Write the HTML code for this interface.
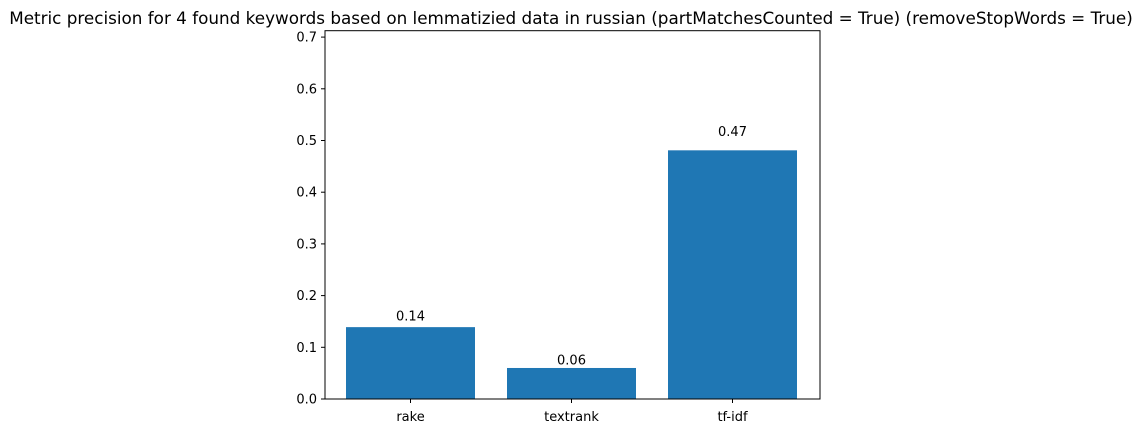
<!DOCTYPE html>
<html><head><meta charset="utf-8"><style>
body{margin:0;background:#fff}
svg text{font-family:"DejaVu Sans","Liberation Sans",sans-serif;fill:#000}
</style></head><body>
<svg width="1143" height="433">
<text x="571" y="24" font-size="16.8" text-anchor="middle">Metric precision for 4 found keywords based on lemmatizied data in russian (partMatchesCounted = True) (removeStopWords = True)</text>
<g id="plot"></g>
</svg>
<script>
const categories=["rake","textrank","tf-idf"];
const values=[0.139,0.06,0.481];
const valueLabels=["0.14","0.06","0.47"];
const yTicks=[0,0.1,0.2,0.3,0.4,0.5,0.6,0.7];
const labelGap=[11,8,19];
const L=325,R=820,T=30.7,B=399;
const y=v=>B-v*517;
const x=i=>410.5+161*i;
const bw=129;
const g=document.getElementById('plot');
const NS="http://www.w3.org/2000/svg";
function mk(t,a){const e=document.createElementNS(NS,t);for(const k in a)e.setAttribute(k,a[k]);g.appendChild(e);return e;}
values.forEach((v,i)=>{
 const r=mk('rect',{x:x(i)-bw/2,y:y(v),width:bw,height:B-y(v),fill:'#1f77b4'});
 
 
 const t=mk('text',{x:x(i),y:y(v)-labelGap[i]+4.5,'font-size':13,'text-anchor':'middle'});t.textContent=valueLabels[i];
 
 
 mk('line',{x1:x(i),x2:x(i),y1:B,y2:B+4,stroke:'#000','stroke-width':1});
 const c=mk('text',{x:x(i),y:B+22,'font-size':13,'text-anchor':'middle'});c.textContent=categories[i];
 
 
});
yTicks.forEach(v=>{
 mk('line',{x1:L-4,x2:L,y1:y(v),y2:y(v),stroke:'#000','stroke-width':1});
 const t=mk('text',{x:L-8,y:y(v)+4.5,'font-size':13,'text-anchor':'end'});t.textContent=v.toFixed(1);
 
 
});
const f=mk('rect',{x:L,y:T,width:R-L,height:B-T,fill:'none',stroke:'#000','stroke-width':1});


</script>
</body></html>
